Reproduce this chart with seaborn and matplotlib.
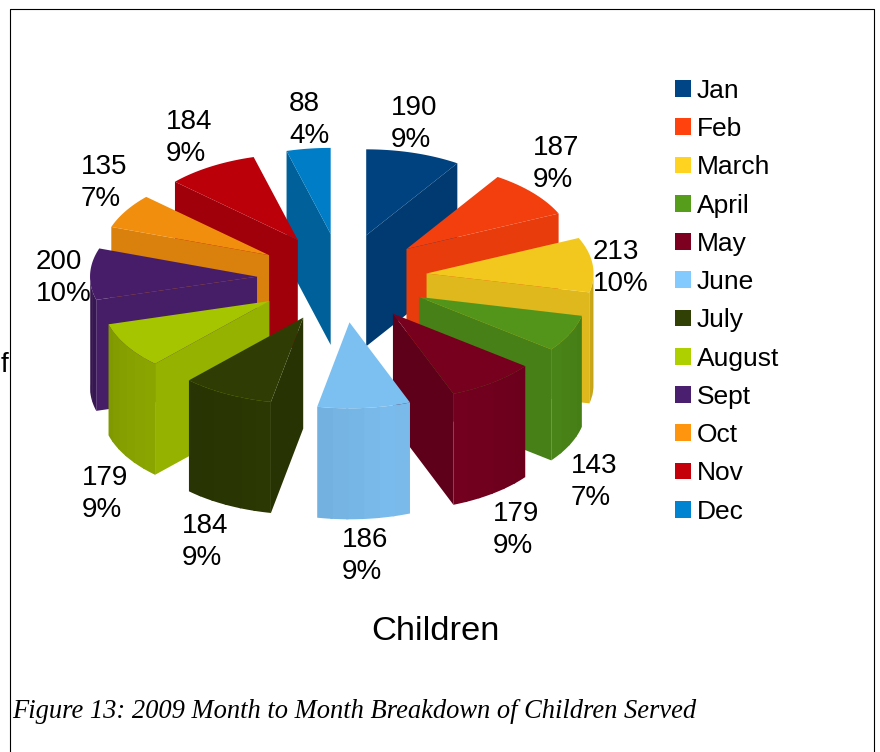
import numpy as np
import seaborn as sns
import matplotlib.pyplot as plt
from matplotlib.patches import Patch

months = ["Jan", "Feb", "March", "April", "May", "June", "July", "August", "Sept", "Oct", "Nov", "Dec"]
children = [190, 187, 213, 143, 179, 186, 184, 179, 200, 135, 184, 88]
percents = ["9%", "9%", "10%", "7%", "9%", "9%", "9%", "9%", "10%", "7%", "9%", "4%"]
colors = ["#004586", "#ff420e", "#ffd320", "#579d1c", "#7e0021", "#83caff",
          "#314004", "#aecf00", "#4b1f6f", "#ff950e", "#c5000b", "#0084d1"]

# left edge / middle of each value label, in pixels
label_xy = [(391, 122), (533, 162), (593, 266), (571, 480), (493, 528), (342, 554),
            (182, 540), (82, 492), (36, 276), (81, 181), (166, 136), (289, 118)]

# pie layout in pixels
cx, cy = 342, 278
rx, ry = 167, 86
explode_x, explode_y = 85, 44.5
depth = 111

sns.set_theme(style="white")
plt.rcParams["font.family"] = ["Liberation Sans", "DejaVu Sans"]
palette = sns.color_palette(colors)

fig = plt.figure(figsize=(8.8, 7.52), dpi=100)
ax = fig.add_axes([0, 0, 1, 1])
ax.set_xlim(0, 880)
ax.set_ylim(752, 0)
ax.axis("off")


def shade(color, phi):
    # the light comes from just right of the viewer
    d = abs((np.degrees(phi) - 165 + 180) % 360 - 180)
    f = 0.95 * max(0.72, 0.98 - 0.0023 * d)
    return tuple(c * f for c in color)


def point(x0, y0, a):
    return x0 + rx * np.sin(a), y0 - ry * np.cos(a)


def fill(xs, ys, c, z):
    ax.fill(xs, ys, facecolor=c, edgecolor="none", lw=0, zorder=z)


def draw_slice(start, end, color, z):
    mid = (start + end) / 2
    x0 = cx + explode_x * np.sin(mid)
    y0 = cy - explode_y * np.cos(mid)
    top = tuple(c * 0.95 for c in color)

    # flat cut faces
    for a, phi, seen in [(start, start - np.pi / 2, np.sin(start) < 0),
                         (end, end + np.pi / 2, np.sin(end) > 0)]:
        if seen:
            x1, y1 = point(x0, y0, a)
            fill([x0, x1, x1, x0], [y0, y1, y1 + depth, y0 + depth], shade(color, phi), z)

    # curved outer face, in bands; each band runs a little under the next one
    steps = max(2, int(np.degrees(end - start) / 5))
    edges = np.linspace(start, end, steps + 1)
    for a, b in zip(edges[:-1], edges[1:]):
        m = (a + b) / 2
        if np.cos(m) < 0:
            arc = np.linspace(a, min(b + 0.015, end), 5)
            xs, ys = point(x0, y0, arc)
            fill(np.r_[xs, xs[::-1]], np.r_[ys, ys[::-1] + depth], shade(color, m), z)

    # top face
    arc = np.linspace(start, end, 60)
    xs, ys = point(x0, y0, arc)
    fill(np.r_[x0, xs], np.r_[y0, ys], top, z + 0.5)


total = sum(children)
bounds = np.cumsum([0] + children) / total * 2 * np.pi
mids = (bounds[:-1] + bounds[1:]) / 2
order = np.argsort(-np.cos(mids))
for z, i in enumerate(order):
    draw_slice(bounds[i], bounds[i + 1], palette[i], z + 2)

for (x, y), v, p in zip(label_xy, children, percents):
    ax.text(x, y + 2, f"{v}\n{p}", fontsize=20, ha="left", va="center",
            multialignment="left", linespacing=1.27, color="black", zorder=40)

handles = [Patch(facecolor=c, edgecolor="none", label=m) for c, m in zip(palette, months)]
ax.legend(handles=handles, loc="upper left", bbox_to_anchor=(667, 71),
          bbox_transform=ax.transData, frameon=False, fontsize=19, labelcolor="black",
          handlelength=0.6, handleheight=0.6, handletextpad=0.22,
          labelspacing=0.54, borderpad=0.3, borderaxespad=0)

ax.text(435, 632, "Children", fontsize=24.8, ha="center", va="center", color="black")
ax.text(12, 712, "Figure 13: 2009 Month to Month Breakdown of Children Served",
        fontsize=19.1, family="Liberation Serif", style="italic", ha="left", va="center", color="black")
ax.text(1, 365, "f", fontsize=20, ha="left", va="center", color="black")

# page frame round the chart
ax.plot([10, 10, 874, 874], [752, 9, 9, 752], color="black", lw=0.8, zorder=50)

fig.savefig("out.png", dpi=100)
